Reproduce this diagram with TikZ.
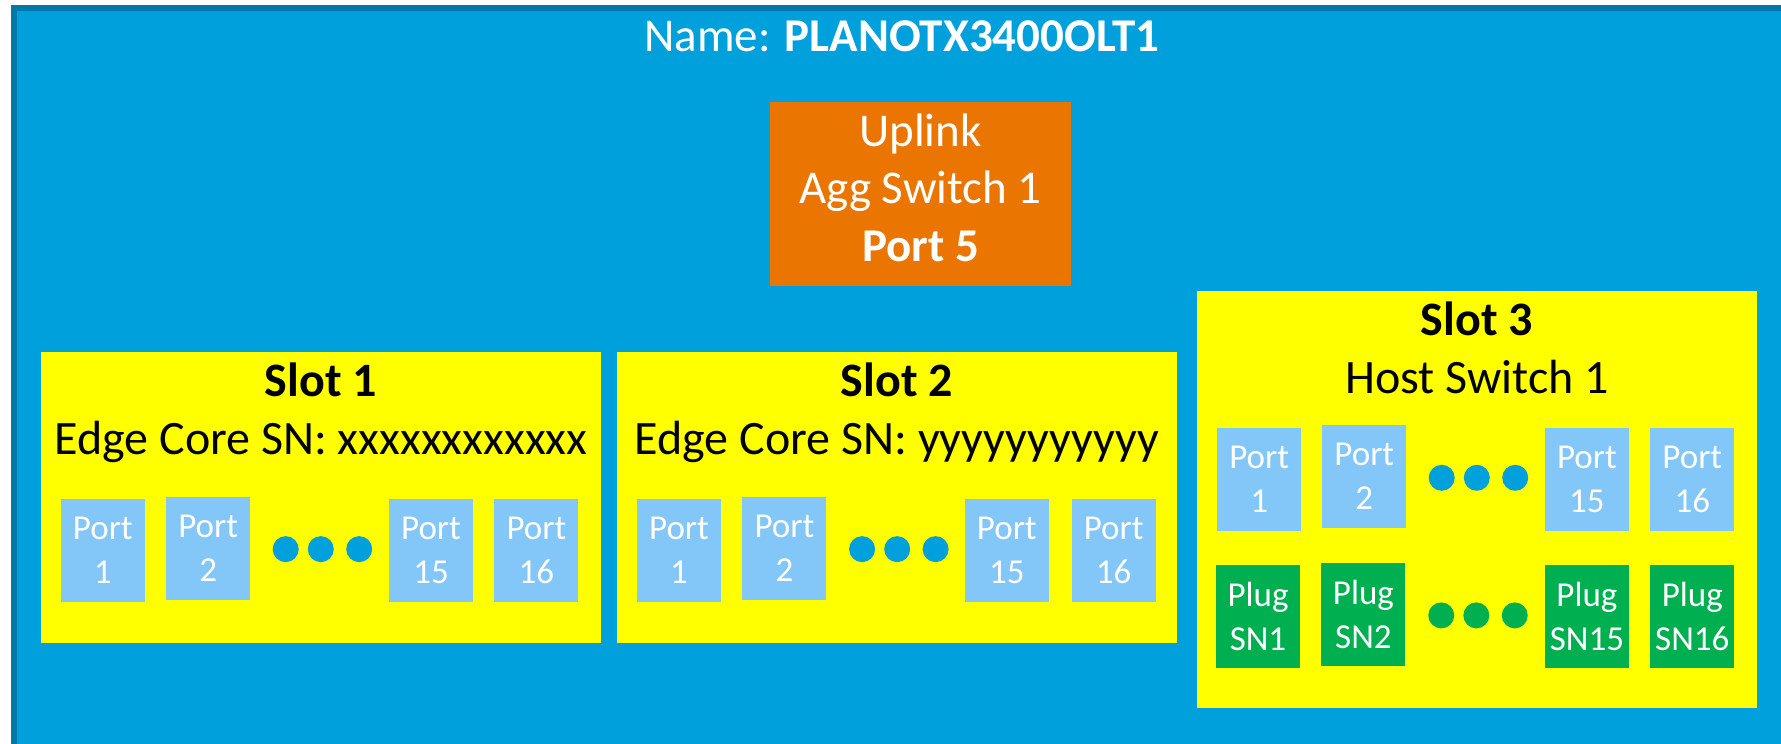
\documentclass[tikz,border=0pt]{standalone}
\usepackage{fontspec}
\setmainfont{Carlito}
\usepackage{xcolor}
\usepackage{tikz}
\usetikzlibrary{shapes.geometric, positioning, calc}
\definecolor{chassisblue}{RGB}{0,160,220}
\definecolor{chassisedge}{RGB}{0,121,166}
\definecolor{slotyellow}{RGB}{255,255,0}
\definecolor{portblue}{RGB}{131,198,248}
\definecolor{pluggreen}{RGB}{0,176,80}
\definecolor{uplinkorange}{RGB}{234,117,0}
\tikzstyle{slotbox} = [rectangle, fill=slotyellow, inner sep=0pt, anchor=north west,
minimum width=560pt, minimum height=291pt]
\tikzstyle{portbox} = [rectangle, fill=portblue, text=white,
minimum width=84pt, minimum height=103pt, inner sep=0pt,
align=center, font=\fontsize{35}{44}\selectfont]
\tikzstyle{plugbox} = [portbox, fill=pluggreen]
\tikzstyle{portdot} = [circle, fill=chassisblue, minimum size=26pt, inner sep=0pt]
\tikzstyle{plugdot} = [portdot, fill=pluggreen]
\tikzstyle{bigtext} = [inner sep=0pt, anchor=base, font=\fontsize{47}{57}\selectfont]
\tikzstyle{slottext} = [bigtext, font=\fontsize{48}{57}\selectfont]

\begin{document}
\begin{tikzpicture}[x=1pt, y=-1pt]
    \useasboundingbox (0,0) rectangle (1781,744);
    \clip (0,0) rectangle (1781,744);
    \draw[chassisedge, line width=5.5pt, fill=chassisblue] (13.8,8) rectangle (1800,770);
    \node (name) [bigtext, text=white] at (902,51.7) {Name: \textbf{PLANOTX3400OLT1}};

    % uplink
    \node (uplink) [rectangle, fill=uplinkorange, minimum width=301pt, minimum height=184pt, inner sep=0pt] at (920.5,193.7) {};
    \node (up1) [bigtext, text=white] at (920.5,146.7) {Uplink};
    \node (up2) [bigtext, text=white] at (920.5,203) {Agg Switch 1};
    \node (up3) [bigtext, text=white] at (920.5,261.7) {\textbf{Port 5}};

    % slot 1
    \node (slot1) [slotbox] at (41,352) {};
    \node (s1name) [slottext] at (321,396.7) {\textbf{Slot 1}};
    \node (s1sn)   [slottext] at (321,454) {Edge Core SN: xxxxxxxxxxxx};
    \node (s1p1)  [portbox] at (102.8,550.3) {Port\\1};
    \node (s1p2)  [portbox, right=21pt of s1p1, yshift=2.3pt] {Port\\2};
    \node (s1p15) [portbox] at (431,550.3) {Port\\15};
    \node (s1p16) [portbox, right=21pt of s1p15] {Port\\16};
    \node (s1d2) [portdot] at ($(s1p2)!0.5!(s1p15)+(1.2,0)$) {};
    \node (s1d1) [portdot, left=8.7pt of s1d2] {};
    \node (s1d3) [portdot, right=12pt of s1d2] {};

    % slot 2
    \node (slot2) [slotbox] at (617,352) {};
    \node (s2name) [slottext] at (897,396.7) {\textbf{Slot 2}};
    \node (s2sn)   [slottext] at (897,454) {Edge Core SN: yyyyyyyyyyy};
    \node (s2p1)  [portbox] at (679,550.3) {Port\\1};
    \node (s2p2)  [portbox, right=21pt of s2p1, yshift=2.3pt] {Port\\2};
    \node (s2p15) [portbox] at (1006.8,550.3) {Port\\15};
    \node (s2p16) [portbox, right=22.5pt of s2p15] {Port\\16};
    \node (s2d2) [portdot] at ($(s2p2)!0.5!(s2p15)+(1.6,0)$) {};
    \node (s2d1) [portdot, left=8.7pt of s2d2] {};
    \node (s2d3) [portdot, right=12pt of s2d2] {};

    % slot 3
    \node (slot3) [slotbox, minimum height=416.7pt] at (1197,291) {};
    \node (s3name) [slottext] at (1477,335) {\textbf{Slot 3}};
    \node (s3host) [slottext] at (1477,393.3) {Host Switch 1};
    \node (s3p1)  [portbox] at (1259.2,479.3) {Port\\1};
    \node (s3p2)  [portbox, right=20.7pt of s3p1, yshift=3pt] {Port\\2};
    \node (s3p15) [portbox] at (1586.9,479.3) {Port\\15};
    \node (s3p16) [portbox, right=21pt of s3p15] {Port\\16};
    \node (s3d2) [portdot] at ($(s3p2)!0.5!(s3p15)+(1.2,0)$) {};
    \node (s3d1) [portdot, left=8.7pt of s3d2] {};
    \node (s3d3) [portdot, right=12pt of s3d2] {};
    \node (s3g1)  [plugbox] at (1258,616.3) {Plug\\SN1};
    \node (s3g2)  [plugbox, right=21pt of s3g1, yshift=1.8pt] {Plug\\SN2};
    \node (s3g15) [plugbox] at (1586.9,616.3) {Plug\\SN15};
    \node (s3g16) [plugbox, right=21pt of s3g15] {Plug\\SN16};
    \node (s3e2) [plugdot] at ($(s3g2)!0.5!(s3g15)+(1.2,0)$) {};
    \node (s3e1) [plugdot, left=8.7pt of s3e2] {};
    \node (s3e3) [plugdot, right=12pt of s3e2] {};
\end{tikzpicture}
\end{document}
